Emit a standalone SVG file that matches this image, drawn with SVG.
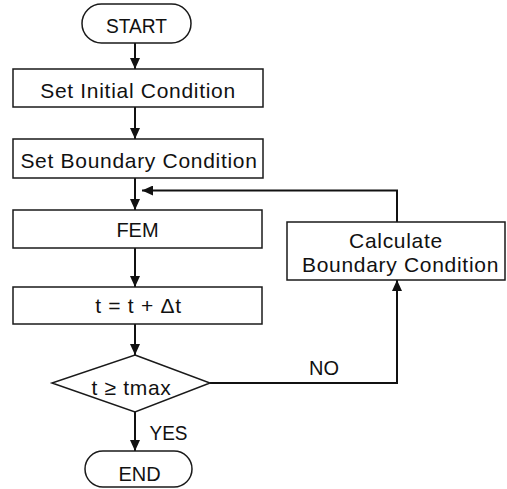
<svg xmlns="http://www.w3.org/2000/svg" width="507" height="489" viewBox="0 0 507 489">
<style>
.box{fill:#fff;stroke:#1a1a1a;stroke-width:1.5}
.ln{fill:none;stroke:#111;stroke-width:2}
.t{font-family:"Liberation Sans",Arial,sans-serif;font-size:21px;fill:#111;text-anchor:middle;letter-spacing:0.7px}
.c{font-family:"Liberation Sans",Arial,sans-serif;font-size:20px;fill:#111;text-anchor:middle}
</style>
<defs>
<marker id="ah" markerUnits="userSpaceOnUse" markerWidth="11" markerHeight="10" refX="11" refY="5" orient="auto">
<path d="M0,0 L11,5 L0,10 z" fill="#111"/>
</marker>
</defs>
<g id="connectors">
<line class="ln" x1="135" y1="43" x2="135" y2="69" marker-end="url(#ah)"/>
<line class="ln" x1="135" y1="107" x2="135" y2="139" marker-end="url(#ah)"/>
<line class="ln" x1="135" y1="178" x2="135" y2="210" marker-end="url(#ah)"/>
<line class="ln" x1="135" y1="248" x2="135" y2="287" marker-end="url(#ah)"/>
<line class="ln" x1="135" y1="324" x2="135" y2="355" marker-end="url(#ah)"/>
<line class="ln" x1="135" y1="412" x2="135" y2="451" marker-end="url(#ah)"/>
<polyline class="ln" points="397,222 397,190.5 142,190.5" marker-end="url(#ah)"/>
<polyline class="ln" points="210,383 397,383 397,280" marker-end="url(#ah)"/>
<text class="c" x="324" y="375">NO</text>
<text class="c" x="168.5" y="440" textLength="38" lengthAdjust="spacingAndGlyphs">YES</text>
</g>
<g id="start">
<rect class="box" x="82" y="4" width="109" height="39" rx="19.5"/>
<text class="c" x="136.5" y="33" font-size="21" textLength="61" lengthAdjust="spacingAndGlyphs">START</text>
</g>
<g id="init">
<rect class="box" x="13" y="69" width="250" height="38"/>
<text class="t" x="138" y="98">Set Initial Condition</text>
</g>
<g id="boundary">
<rect class="box" x="13" y="139" width="250" height="39"/>
<text class="t" x="139" y="168">Set Boundary Condition</text>
</g>
<g id="fem">
<rect class="box" x="13" y="210" width="249" height="38"/>
<text class="c" x="137.5" y="237">FEM</text>
</g>
<g id="step">
<rect class="box" x="13" y="287" width="249" height="37"/>
<text class="t" x="138.5" y="313">t = t + Δt</text>
</g>
<g id="decision">
<polygon class="box" points="135,355 210,383 135,412 52,383"/>
<text class="t" x="131.5" y="395">t ≥ tmax</text>
</g>
<g id="end">
<rect class="box" x="85" y="451" width="107" height="36" rx="18"/>
<text class="c" x="139.5" y="481">END</text>
</g>
<g id="calc">
<rect class="box" x="287" y="222" width="218" height="58"/>
<text class="t" x="396" y="248">Calculate</text>
<text class="t" x="400.5" y="272">Boundary Condition</text>
</g>
</svg>
